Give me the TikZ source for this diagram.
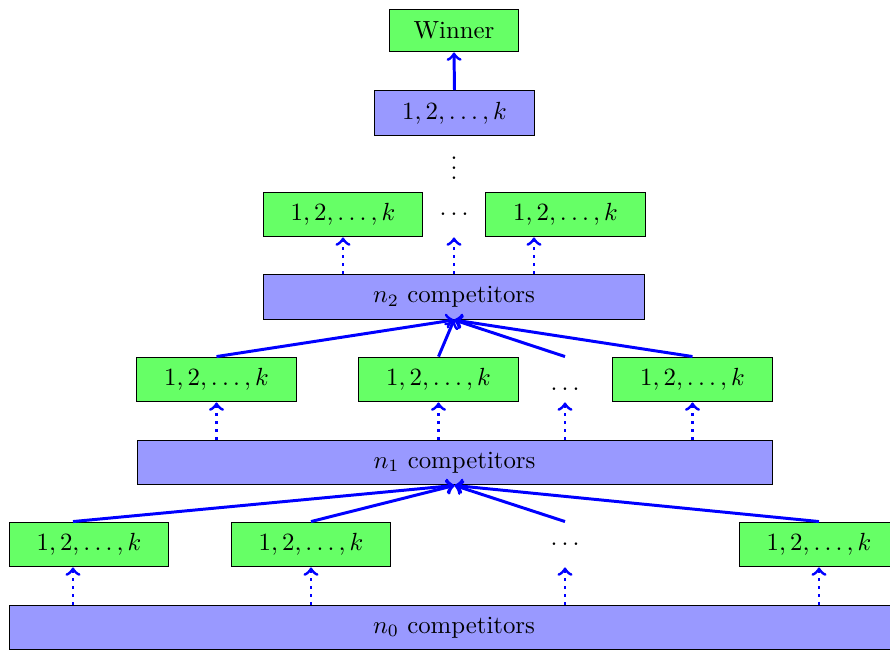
\documentclass[tikz,border=0pt]{standalone}
\begin{document}
\begin{tikzpicture}[x=0.403pt,y=-0.403pt,
  gbox/.style={draw=black, fill=green!60, minimum width=64.1pt, minimum height=18.1pt, inner sep=0pt},
  bbox/.style={draw=black, fill=blue!40, minimum height=18.1pt, inner sep=0pt},
  dotsnode/.style={minimum width=64.1pt, minimum height=18.1pt, inner sep=0pt},
  solidarrow/.style={->, draw=blue, very thick},
  dotarrow/.style={->, draw=blue, very thick, dotted}]
\useasboundingbox (0,0) rectangle (890,649);

% top
\node[gbox, minimum width=51.6pt, minimum height=17.3pt] (win) at (454,30.5) {Winner};
\node[bbox, minimum width=64.1pt] (top) at (454.5,113) {$1,2,\dots,k$};
\node (vd) at (454,161) {$\vdots$};

% level 2
\node[gbox] (g2a) at (343,214.5) {$1,2,\dots,k$};
\node[dotsnode] (g2d) at (454,214.5) {$\dots$};
\node[gbox] (g2b) at (565.5,214.5) {$1,2,\dots,k$};
\node[bbox, minimum width=153.9pt] (n2) at (454,297) {$n_2$ competitors};
\coordinate (g2bB) at ([xshift=-12.7pt]g2b.south);

% level 1
\node[gbox] (g1a) at (216.5,379.5) {$1,2,\dots,k$};
\node[gbox] (g1b) at (438.5,379.5) {$1,2,\dots,k$};
\node[dotsnode] (g1d) at (565,379.5) {\raisebox{-4.3pt}[0pt][0pt]{$\dots$}};
\node[gbox] (g1c) at (692.5,379.5) {$1,2,\dots,k$};
\node[bbox, minimum width=255.9pt] (n1) at (454.5,462.5) {$n_1$ competitors};

% level 0
\node[gbox] (g0a) at (89,544.5) {$1,2,\dots,k$};
\node[gbox] (g0b) at (311,544.5) {$1,2,\dots,k$};
\node[dotsnode] (g0d) at (565,544.5) {$\dots$};
\node[gbox] (g0c) at (819,544.5) {$1,2,\dots,k$};
\node[bbox, minimum width=357.9pt] (n0) at (454,627.5) {$n_0$ competitors};
\coordinate (g0aT) at ([xshift=-6.45pt]g0a.north);
\coordinate (g0aB) at ([xshift=-6.45pt]g0a.south);

% arrows top
\draw[solidarrow] (top.north) -- (win.south);

% level 2 dotted
\draw[dotarrow] (g2a.south |- n2.north) -- (g2a.south);
\draw[dotarrow] (g2d.south |- n2.north) -- (g2d.south);
\draw[dotarrow] (g2bB |- n2.north) -- (g2bB);

% level 1 solid
\foreach \g in {g1a,g1b,g1d,g1c}
  \draw[solidarrow] (\g.north) -- (n2.south);
% level 1 dotted
\foreach \g in {g1a,g1b,g1d,g1c}
  \draw[dotarrow] (\g.south |- n1.north) -- (\g.south);

% level 0 solid
\draw[solidarrow] (g0aT) -- (n1.south);
\foreach \g in {g0b,g0d,g0c}
  \draw[solidarrow] (\g.north) -- (n1.south);
% level 0 dotted
\draw[dotarrow] (g0aB |- n0.north) -- (g0aB);
\foreach \g in {g0b,g0d,g0c}
  \draw[dotarrow] (\g.south |- n0.north) -- (\g.south);
\end{tikzpicture}
\end{document}
